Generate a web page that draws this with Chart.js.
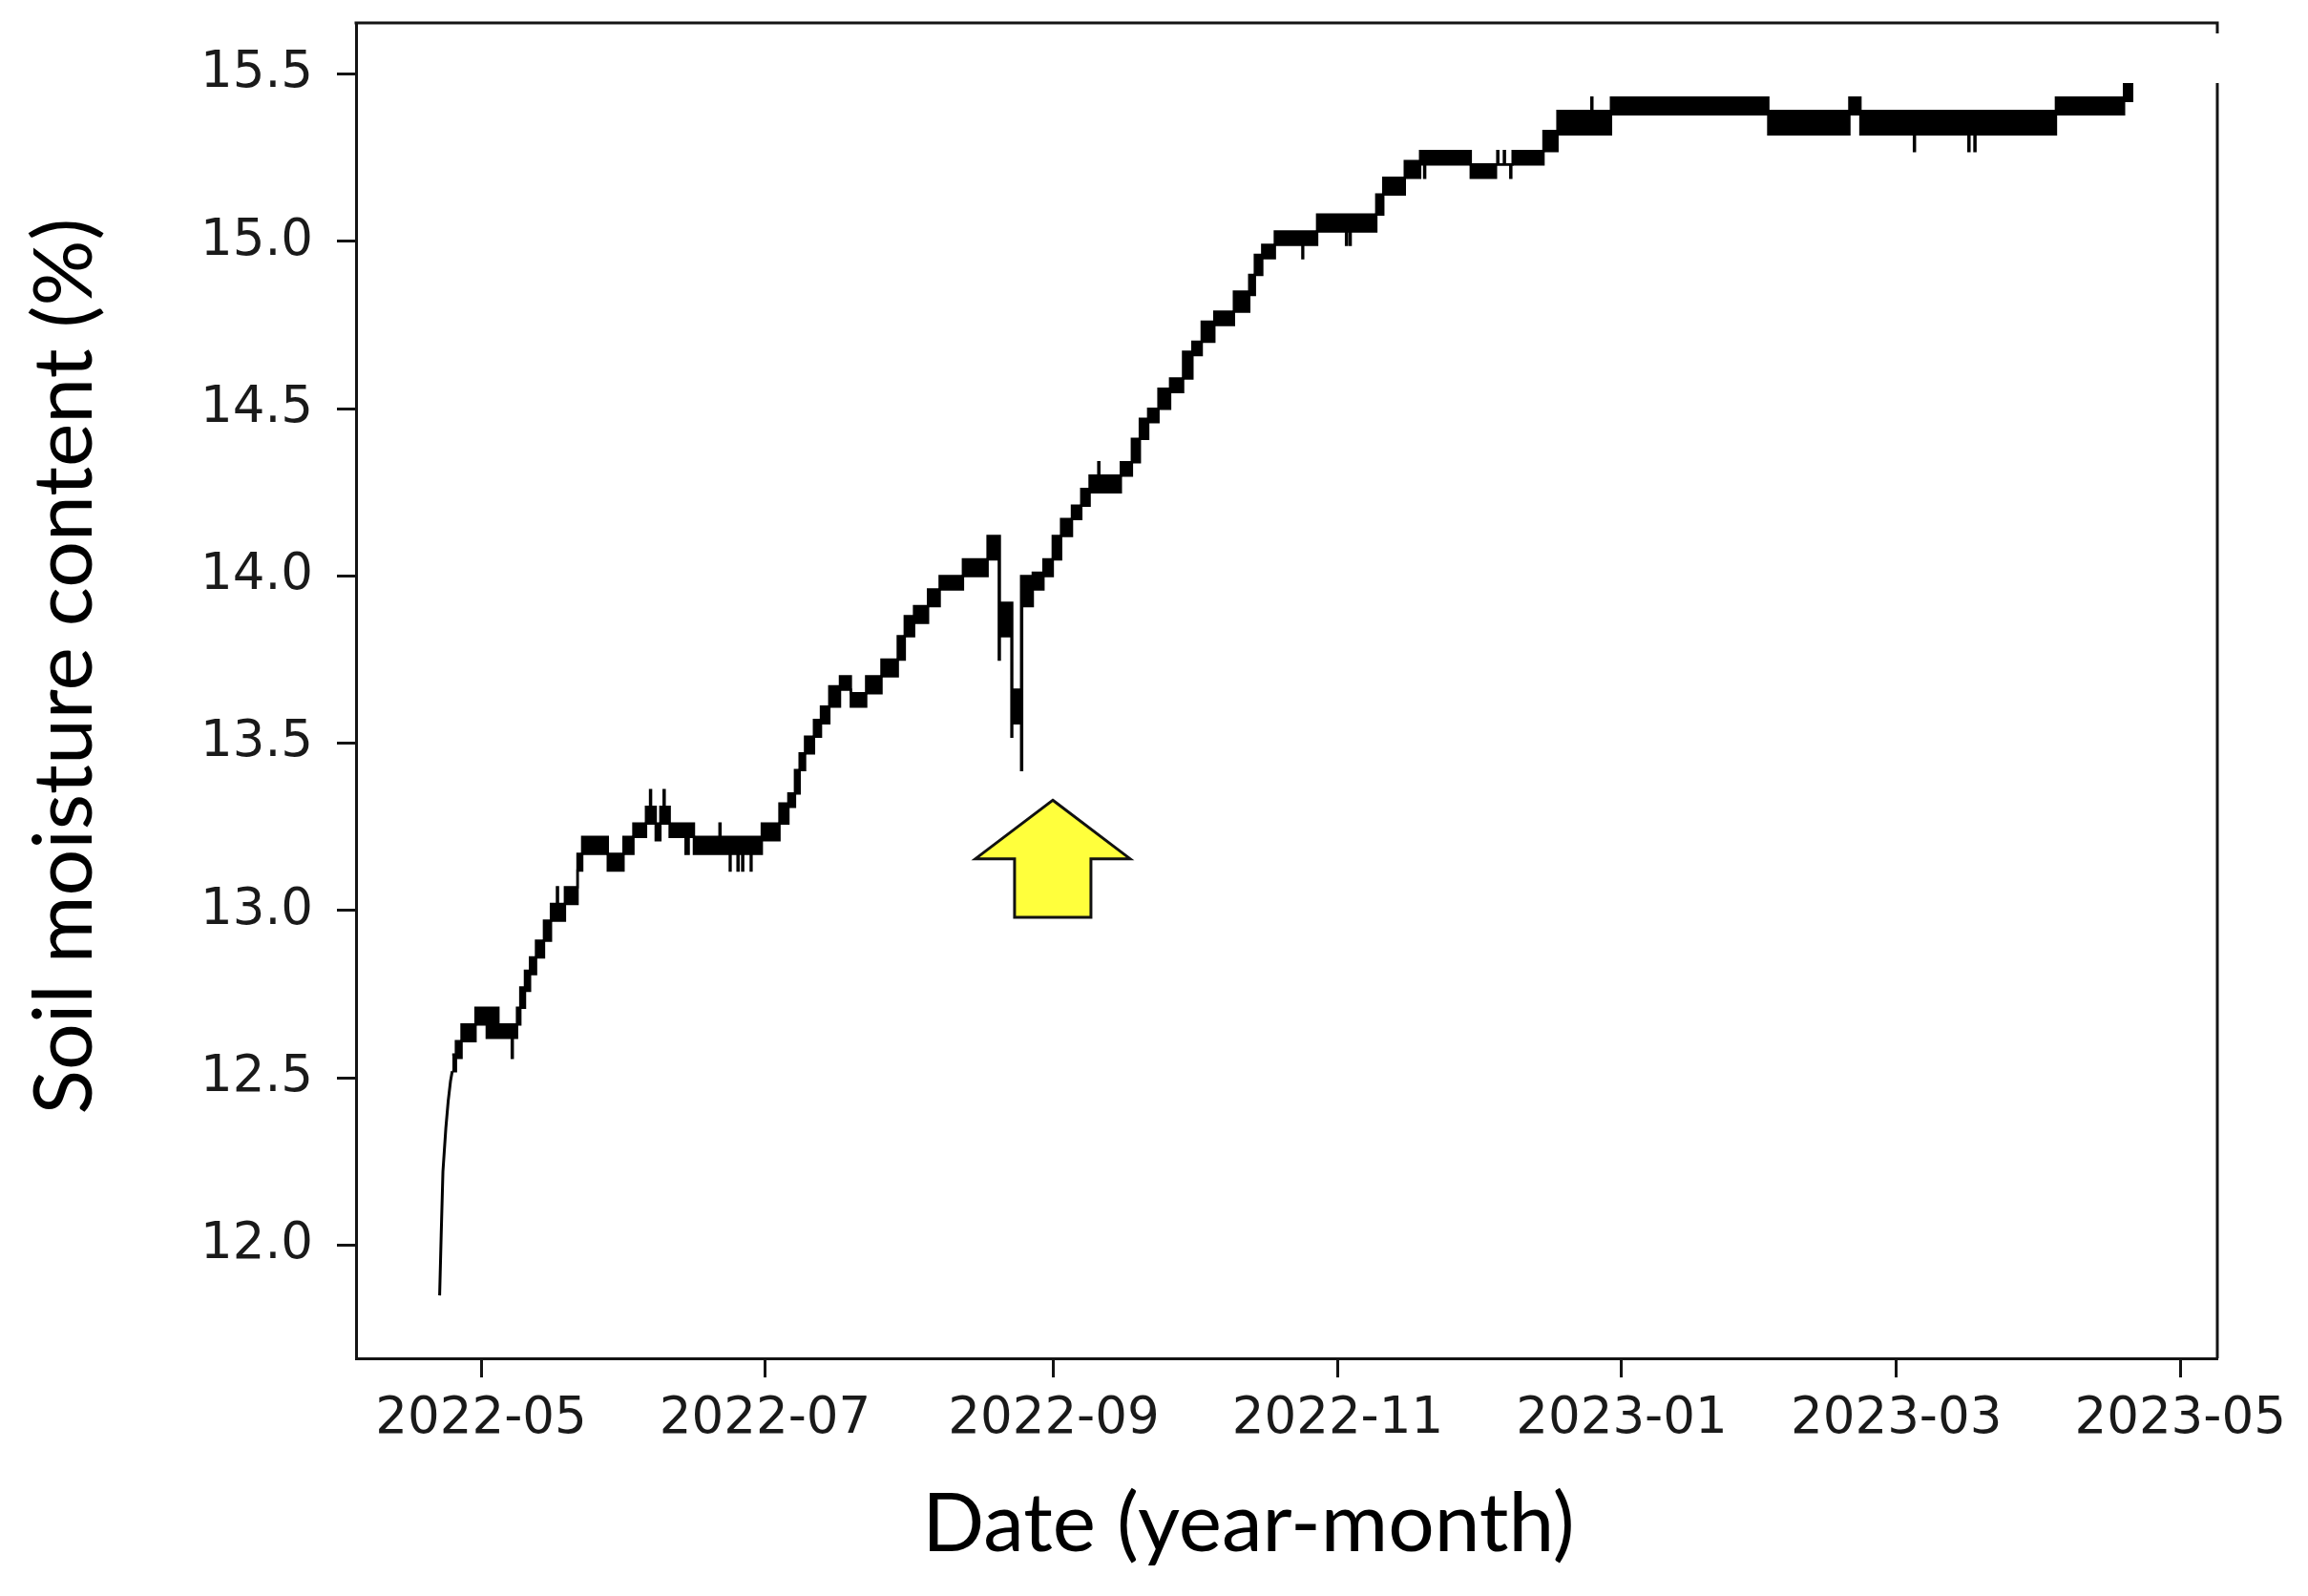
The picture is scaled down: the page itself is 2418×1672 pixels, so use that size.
<!DOCTYPE html>
<html>
<head>
<meta charset="utf-8">
<script src="https://cdn.jsdelivr.net/npm/chart.js@4.4.1/dist/chart.umd.min.js"></script>
<style>
  html, body { margin: 0; padding: 0; background: #ffffff; }
  canvas { display: block; }
</style>
</head>
<body>
<canvas id="c" width="2418" height="1672" style="width:2418px;height:1672px"></canvas>
<script>
// ---------------- data ----------------
// initial sensor settling rise (thin line)
const riseDates  = ['2022-04-22 02','2022-04-22 10','2022-04-22 19','2022-04-23 10','2022-04-23 22','2022-04-24 10','2022-04-24 19'];
const riseValues = [11.85, 12.03, 12.22, 12.35, 12.43, 12.49, 12.52];

// step series: each reading band holds from its date until the next date
const dates = [
 '2022-04-24 19','2022-04-25 14','2022-04-26 19','2022-04-29 19','2022-05-02 05','2022-05-04 07','2022-05-04 12','2022-05-04 17',
 '2022-05-07 14','2022-05-07 19','2022-05-08 17','2022-05-09 10','2022-05-10 10','2022-05-11 12','2022-05-12 19','2022-05-14 12',
 '2022-05-16 00','2022-05-17 07','2022-05-17 12','2022-05-19 00','2022-05-21 17','2022-05-22 17','2022-05-28 05','2022-05-31 14',
 '2022-06-02 17','2022-06-05 10','2022-06-06 07','2022-06-06 12','2022-06-07 12','2022-06-08 12','2022-06-09 05','2022-06-09 10',
 '2022-06-10 12','2022-06-13 22','2022-06-14 14','2022-06-15 17','2022-06-21 05','2022-06-21 10','2022-06-23 10','2022-06-23 14',
 '2022-06-25 02','2022-06-25 07','2022-06-26 02','2022-06-26 07','2022-06-27 22','2022-06-28 02','2022-06-30 07','2022-07-04 02',
 '2022-07-06 00','2022-07-07 10','2022-07-08 10','2022-07-09 14','2022-07-11 12','2022-07-13 00','2022-07-14 19','2022-07-17 02',
 '2022-07-19 10','2022-07-22 17','2022-07-26 00','2022-07-29 12','2022-07-31 00','2022-08-02 00','2022-08-05 00','2022-08-07 12',
 '2022-08-12 12','2022-08-17 19','2022-08-20 05','2022-08-20 10','2022-08-22 22','2022-08-23 02','2022-08-25 00','2022-08-25 05',
 '2022-08-27 12','2022-08-29 19','2022-08-31 19','2022-09-02 14','2022-09-04 22','2022-09-06 22','2022-09-08 17','2022-09-10 14',
 '2022-09-10 19','2022-09-15 10','2022-09-17 19','2022-09-19 12','2022-09-21 07','2022-09-23 12','2022-09-26 00','2022-09-28 19',
 '2022-09-30 19','2022-10-02 19','2022-10-05 12','2022-10-09 17','2022-10-13 00','2022-10-14 05','2022-10-15 19','2022-10-18 12',
 '2022-10-24 10','2022-10-24 14','2022-10-27 14','2022-11-02 19','2022-11-03 00','2022-11-03 14','2022-11-03 19','2022-11-09 07',
 '2022-11-10 19','2022-11-15 10','2022-11-18 17','2022-11-19 14','2022-11-19 19','2022-11-29 14','2022-12-05 00','2022-12-05 07',
 '2022-12-05 12','2022-12-06 17','2022-12-06 22','2022-12-08 02','2022-12-08 07','2022-12-08 14','2022-12-15 05','2022-12-18 05',
 '2022-12-25 12','2022-12-25 17','2022-12-29 17','2023-02-01 12','2023-02-18 22','2023-02-21 07','2023-03-04 19','2023-03-05 00',
 '2023-03-16 12','2023-03-16 17','2023-03-17 19','2023-03-18 00','2023-04-04 07','2023-04-18 22','2023-04-20 22'
];
const lowValues = [
 12.52,12.56,12.61,12.66,12.62,12.62,12.62,12.62,
 12.56,12.62,12.66,12.71,12.76,12.81,12.86,12.91,
 12.97,12.97,12.97,13.02,13.12,13.17,13.12,13.17,
 13.22,13.26,13.26,13.26,13.21,13.26,13.26,13.26,
 13.22,13.17,13.22,13.17,13.17,13.17,13.12,13.17,
 13.12,13.17,13.12,13.17,13.12,13.17,13.21,13.26,
 13.31,13.35,13.42,13.47,13.52,13.56,13.61,13.66,
 13.61,13.65,13.70,13.75,13.82,13.86,13.91,13.96,
 14.00,14.05,13.75,13.82,13.52,13.56,13.42,13.91,
 13.96,14.00,14.05,14.12,14.17,14.21,14.25,14.25,
 14.25,14.30,14.34,14.41,14.46,14.50,14.55,14.59,
 14.66,14.70,14.75,14.79,14.84,14.90,14.95,14.99,
 14.95,14.99,15.03,14.99,15.03,14.99,15.03,15.08,
 15.14,15.19,15.23,15.19,15.23,15.19,15.23,15.23,
 15.23,15.23,15.23,15.19,15.23,15.23,15.27,15.32,
 15.32,15.32,15.38,15.32,15.38,15.32,15.27,15.32,
 15.27,15.32,15.27,15.32,15.38,15.42,15.42
];
const highValues = [
 12.57,12.61,12.66,12.71,12.71,12.66,12.71,12.66,
 12.66,12.66,12.71,12.77,12.82,12.86,12.91,12.97,
 13.02,13.07,13.02,13.07,13.17,13.22,13.17,13.22,
 13.26,13.31,13.36,13.31,13.26,13.31,13.36,13.31,
 13.26,13.26,13.26,13.22,13.26,13.22,13.22,13.22,
 13.22,13.22,13.22,13.22,13.22,13.22,13.26,13.32,
 13.35,13.42,13.47,13.52,13.57,13.61,13.67,13.70,
 13.65,13.70,13.75,13.82,13.88,13.91,13.96,14.00,
 14.05,14.12,14.12,13.92,13.92,13.66,14.00,14.00,
 14.01,14.05,14.12,14.17,14.21,14.26,14.30,14.34,
 14.30,14.34,14.41,14.47,14.50,14.56,14.59,14.67,
 14.70,14.76,14.79,14.85,14.90,14.96,14.99,15.03,
 15.03,15.03,15.08,15.08,15.08,15.08,15.08,15.14,
 15.19,15.24,15.27,15.27,15.27,15.23,15.23,15.27,
 15.23,15.27,15.23,15.23,15.23,15.27,15.33,15.39,
 15.43,15.39,15.43,15.39,15.43,15.39,15.39,15.39,
 15.39,15.39,15.39,15.39,15.43,15.47,15.47
];

const xTickDates  = ['2022-05-01','2022-07-01','2022-09-01','2022-11-01','2023-01-01','2023-03-01','2023-05-01'];
const xTickLabels = ['2022-05','2022-07','2022-09','2022-11','2023-01','2023-03','2023-05'];
const yTickValues = [12.0, 12.5, 13.0, 13.5, 14.0, 14.5, 15.0, 15.5];
const yTickLabels = ['12.0','12.5','13.0','13.5','14.0','14.5','15.0','15.5'];
const xRange = ['2022-04-04 03', '2023-05-08 23'];
const yRange = [11.662, 15.653];
const xAxisTitle = 'Date (year-month)';
const yAxisTitle = 'Soil moisture content (%)';
// yellow arrow pointing at the dip
const arrowDate = '2022-08-31 19';
const arrowTipValue = 13.33;
const arrowBaseValue = 12.98;

// ---------------- helpers ----------------
function parseT(s) {
  const [d, h] = s.split(' ');
  const [Y, M, D] = d.split('-').map(Number);
  return Date.UTC(Y, M - 1, D, h ? Number(h) : 0);
}
function fitFont(text, family, target) {
  const c = document.createElement('canvas').getContext('2d');
  c.font = '100px ' + family;
  return 100 * target / c.measureText(text).width;
}
const titleFamily = 'Lato';
const xTitleSize = fitFont(xAxisTitle, titleFamily, 683);
const yTitleSize = fitFont(yAxisTitle, titleFamily, 939);

const frameColor = '#141414';
const textColor = '#1a1a1a';

const riseData = riseDates.map((d, i) => ({ x: parseT(d), y: riseValues[i] }));
const lowData  = dates.map((d, i) => ({ x: parseT(d), y: lowValues[i] }));
const highData = dates.map((d, i) => ({ x: parseT(d), y: highValues[i] }));

const overlay = {
  id: 'overlay',
  afterDatasetsDraw(chart) {
    const { ctx, chartArea: a, scales } = chart;
    const xs = scales.x, ys = scales.y;
    // arrow
    const ax = xs.getPixelForValue(parseT(arrowDate));
    const yTip = ys.getPixelForValue(arrowTipValue);
    const yBase = ys.getPixelForValue(arrowBaseValue);
    const headH = (yBase - yTip) * 0.5;
    const wing = 81, shaft = 40;
    ctx.save();
    ctx.beginPath();
    ctx.moveTo(ax, yTip);
    ctx.lineTo(ax + wing, yTip + headH);
    ctx.lineTo(ax + shaft, yTip + headH);
    ctx.lineTo(ax + shaft, yBase);
    ctx.lineTo(ax - shaft, yBase);
    ctx.lineTo(ax - shaft, yTip + headH);
    ctx.lineTo(ax - wing, yTip + headH);
    ctx.closePath();
    ctx.fillStyle = '#FFFF3C';
    ctx.fill();
    ctx.lineWidth = 3;
    ctx.lineJoin = 'miter';
    ctx.strokeStyle = '#111111';
    ctx.stroke();
    ctx.restore();
    // top and right spines (right spine partly hidden near the top)
    ctx.save();
    ctx.strokeStyle = frameColor;
    ctx.lineWidth = 3;
    ctx.beginPath();
    ctx.moveTo(a.left - 1.5, a.top);
    ctx.lineTo(a.right, a.top);
    ctx.lineTo(a.right, a.top + 11);
    ctx.moveTo(a.right, a.top + 63);
    ctx.lineTo(a.right, a.bottom);
    ctx.stroke();
    ctx.restore();
  },
  afterDraw(chart) {
    const { ctx, chartArea: a } = chart;
    ctx.save();
    ctx.fillStyle = '#000000';
    ctx.textAlign = 'center';
    ctx.textBaseline = 'alphabetic';
    ctx.font = xTitleSize.toFixed(1) + 'px ' + titleFamily;
    ctx.fillText(xAxisTitle, a.left + 935, a.bottom + 202);
    ctx.translate(a.left - 277, a.top + 674);
    ctx.rotate(-Math.PI / 2);
    ctx.font = yTitleSize.toFixed(1) + 'px ' + titleFamily;
    ctx.fillText(yAxisTitle, 0, 0);
    ctx.restore();
  }
};

new Chart(document.getElementById('c'), {
  type: 'line',
  data: {
    datasets: [
      { label: 'rise', data: riseData, borderColor: '#000', borderWidth: 3, pointRadius: 0, fill: false, tension: 0 },
      { label: 'low', data: lowData, stepped: 'before', borderColor: '#000', borderWidth: 2.5, pointRadius: 0, fill: false },
      { label: 'high', data: highData, stepped: 'before', borderColor: '#000', borderWidth: 2.5, pointRadius: 0,
        fill: '-1', backgroundColor: '#000' }
    ]
  },
  options: {
    responsive: false,
    devicePixelRatio: 1,
    animation: false,
    parsing: true,
    layout: { padding: { top: 24, right: 95, left: 0, bottom: 0 } },
    plugins: { legend: { display: false }, tooltip: { enabled: false }, title: { display: false } },
    scales: {
      x: {
        type: 'linear',
        min: parseT(xRange[0]),
        max: parseT(xRange[1]),
        afterBuildTicks: s => { s.ticks = xTickDates.map(d => ({ value: parseT(d) })); },
        afterFit: s => { s.height = 249; s.paddingLeft = 0; s.paddingRight = 0; s.paddingTop = 0; s.paddingBottom = 0; },
        ticks: {
          autoSkip: false, maxRotation: 0, minRotation: 0, padding: 12,
          color: textColor, font: { family: "'DejaVu Sans'", size: 53 },
          callback: (v, i) => xTickLabels[i]
        },
        grid: { display: true, drawOnChartArea: false, drawTicks: true, tickLength: 20, tickWidth: 3, tickColor: frameColor },
        border: { display: true, width: 3, color: frameColor }
      },
      y: {
        type: 'linear',
        min: yRange[0],
        max: yRange[1],
        afterBuildTicks: s => { s.ticks = yTickValues.map(v => ({ value: v })); },
        afterFit: s => { s.width = 373; s.paddingLeft = 0; s.paddingRight = 0; s.paddingTop = 0; s.paddingBottom = 0; },
        ticks: {
          autoSkip: false, padding: 25,
          color: textColor, font: { family: "'DejaVu Sans'", size: 53 },
          callback: (v, i) => yTickLabels[i]
        },
        grid: { display: true, drawOnChartArea: false, drawTicks: true, tickLength: 20, tickWidth: 3, tickColor: frameColor },
        border: { display: true, width: 3, color: frameColor }
      }
    }
  },
  plugins: [overlay]
});
</script>
</body>
</html>
